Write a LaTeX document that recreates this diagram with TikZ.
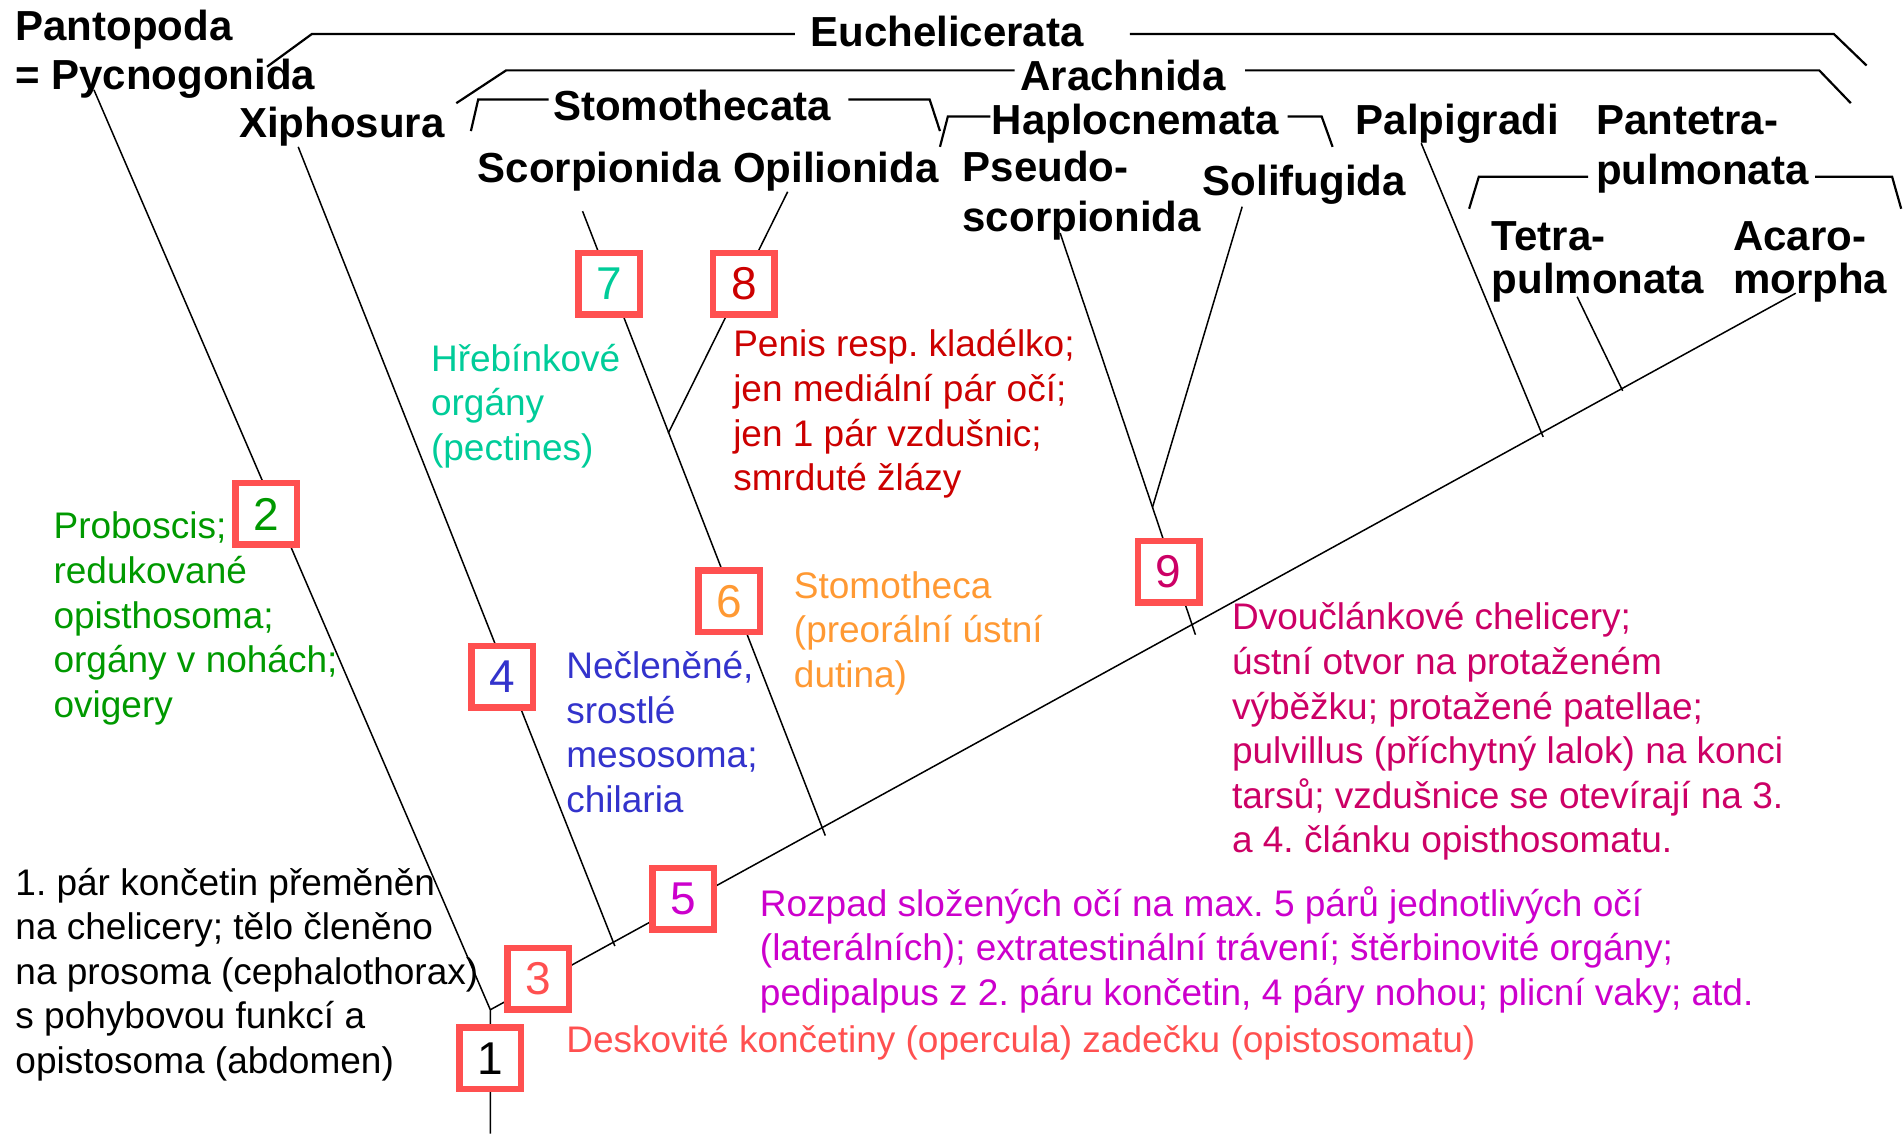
\documentclass[tikz,border=0pt]{standalone}
\usepackage{fontspec}
\setmainfont{Liberation Sans}
\definecolor{boxred}{HTML}{FF5050}
\definecolor{cgreen}{HTML}{009900}
\definecolor{cteal}{HTML}{00CC99}
\definecolor{cdred}{HTML}{CC0000}
\definecolor{corange}{HTML}{FF9933}
\definecolor{cblue}{HTML}{3333CC}
\definecolor{cpink}{HTML}{CC0066}
\definecolor{cpurple}{HTML}{CC00CC}
\tikzset{
 lbl/.style={anchor=base west, inner sep=0pt, font=\bfseries\fontsize{42}{50}\selectfont},
 desc/.style={anchor=base west, inner sep=0pt, align=left, font=\frenchspacing\fontsize{37}{44.6}\selectfont},
 numbox/.style={draw=boxred, line width=6.5pt, fill=white, minimum size=61.5pt, inner sep=0pt, font=\fontsize{46}{50}\selectfont},
 tree/.style={line width=1.5pt},
 brack/.style={line width=2.2pt},
}
\begin{document}
\frenchspacing
\begin{tikzpicture}[x=1.2136pt, y=-1.2136pt]
\useasboundingbox (0,0) rectangle (1568,934);
% ---------- tree coordinates
\coordinate (R) at (404,832);
\coordinate (Bot) at (404,934);
\coordinate (PycT) at (77.4,74);
\coordinate (AcaT) at (1479.6,241.6);
\coordinate (XipT) at (245.7,121);
\coordinate (XipE) at (506.6,779.5);
\coordinate (ScoT) at (480,174);
\coordinate (ScoE) at (680,688.5);
\coordinate (OpiT) at (649,158);
\coordinate (OpiJ) at (550.6,357);
\coordinate (PseT) at (873.5,192);
\coordinate (PseE) at (985,523);
\coordinate (SolT) at (1023.5,170.3);
\coordinate (SolJ) at (949.6,418);
\coordinate (PalT) at (1171,118);
\coordinate (PalE) at (1271.5,360);
\coordinate (TetT) at (1299.5,244.5);
\coordinate (TetE) at (1337,322);
% ---------- tree lines
\draw[tree] (Bot) -- (R) -- (PycT);
\draw[tree] (R) -- (AcaT);
\draw[tree] (XipT) -- (XipE);
\draw[tree] (ScoT) -- (ScoE);
\draw[tree] (OpiT) -- (OpiJ);
\draw[tree] (PseT) -- (PseE);
\draw[tree] (SolT) -- (SolJ);
\draw[tree] (PalT) -- (PalE);
\draw[tree] (TetT) -- (TetE);
% ---------- labels
\node[lbl] (pant) at (12.5,33) {Pantopoda};
\node[lbl] (pycn) at (12.5,74) {= Pycnogonida};
\node[lbl] (xiph) at (197,113) {Xiphosura};
\node[lbl] (stom) at (455.5,99) {Stomothecata};
\node[lbl] (scor) at (393.6,150) {Scorpionida};
\node[lbl] (opil) at (604,150) {Opilionida};
\node[lbl] (euch) at (667.6,38.5) {Euchelicerata};
\node[lbl] (arac) at (840.6,74.7) {Arachnida};
\node[lbl] (hapl) at (817,111) {Haplocnemata};
\node[lbl] (palp) at (1117,111) {Palpigradi};
\node[lbl] (pant1) at (1315,111) {Pantetra-};
\node[lbl] (pant2) at (1315,152.4) {pulmonata};
\node[lbl] (pseu1) at (793,149.7) {Pseudo-};
\node[lbl] (pseu2) at (793,191) {scorpionida};
\node[lbl] (soli) at (991,160.7) {Solifugida};
\node[lbl] (tetr1) at (1229,206.6) {Tetra-};
\node[lbl] (tetr2) at (1229,241.7) {pulmonata};
\node[lbl] (acar1) at (1428,206.6) {Acaro-};
\node[lbl] (acar2) at (1428,241.7) {morpha};
% ---------- brackets
\draw[brack] (220,55) -- (257,28) -- (655,28);
\draw[brack] (931,28) -- (1511,28) -- (1538,54);
\draw[brack] (376,85) -- (417,58) -- (836,58);
\draw[brack] (1026,58) -- (1499,58) -- (1525,85);
\draw[brack] (388,108) -- (394,82) -- (452,82);
\draw[brack] (699,82) -- (766,82) -- (774.5,108);
\draw[brack] (774.5,121) -- (781,96) -- (816,96);
\draw[brack] (1061,96) -- (1089,96) -- (1098,121);
\draw[brack] (1210.5,172) -- (1218.5,145.6) -- (1308.5,145.6);
\draw[brack] (1495.6,145.6) -- (1559,145.6) -- (1566.5,172);
% ---------- numbered boxes
\node[numbox, text=black] (b1) at (404,872) {1};
\node[numbox, text=cgreen] (b2) at (219.5,423.5) {2};
\node[numbox, text=boxred] (b3) at (443.5,806.5) {3};
\node[numbox, text=cblue] (b4) at (414,557.5) {4};
\node[numbox, text=cpurple] (b5) at (563,740.5) {5};
\node[numbox, text=corange] (b6) at (601,495.5) {6};
\node[numbox, text=cteal] (b7) at (502,234) {7};
\node[numbox, text=cdred] (b8) at (613,234) {8};
\node[numbox, text=cpink] (b9) at (963,471) {9};
% ---------- descriptions (anchor = baseline of last line)
\node[desc, text=black] (d1) at (12.6,884.5) {1. pár končetin přeměněn\\na chelicery; tělo členěno\\na prosoma (cephalothorax)\\s pohybovou funkcí a\\opistosoma (abdomen)};
\node[desc, text=cgreen] (d2) at (44,591) {Proboscis;\\redukované\\opisthosoma;\\orgány v nohách;\\ovigery};
\node[desc, text=boxred] (d3) at (466.5,867.4) {Deskovité končetiny (opercula) zadečku (opistosomatu)};
\node[desc, text=cblue] (d4) at (466.5,669.3) {Nečleněné,\\srostlé\\mesosoma;\\chilaria};
\node[desc, text=cpurple] (d5) at (626,828.5) {Rozpad složených očí na max. 5 párů jednotlivých očí\\(laterálních); extratestinální trávení; štěrbinovité orgány;\\pedipalpus z 2. páru končetin, 4 páry nohou; plicní vaky; atd.};
\node[desc, text=corange] (d6) at (654,566.5) {Stomotheca\\(preorální ústní\\dutina)};
\node[desc, text=cteal] (d7) at (355,379.5) {Hřebínkové\\orgány\\(pectines)};
\node[desc, text=cdred] (d8) at (604,404.3) {Penis resp. kladélko;\\jen mediální pár očí;\\jen 1 pár vzdušnic;\\smrduté žlázy};
\node[desc, text=cpink] (d9) at (1015,702.8) {Dvoučlánkové chelicery;\\ústní otvor na protaženém\\výběžku; protažené patellae;\\pulvillus (příchytný lalok) na konci\\tarsů; vzdušnice se otevírají na 3.\\a 4. článku opisthosomatu.};
\end{tikzpicture}
\end{document}
